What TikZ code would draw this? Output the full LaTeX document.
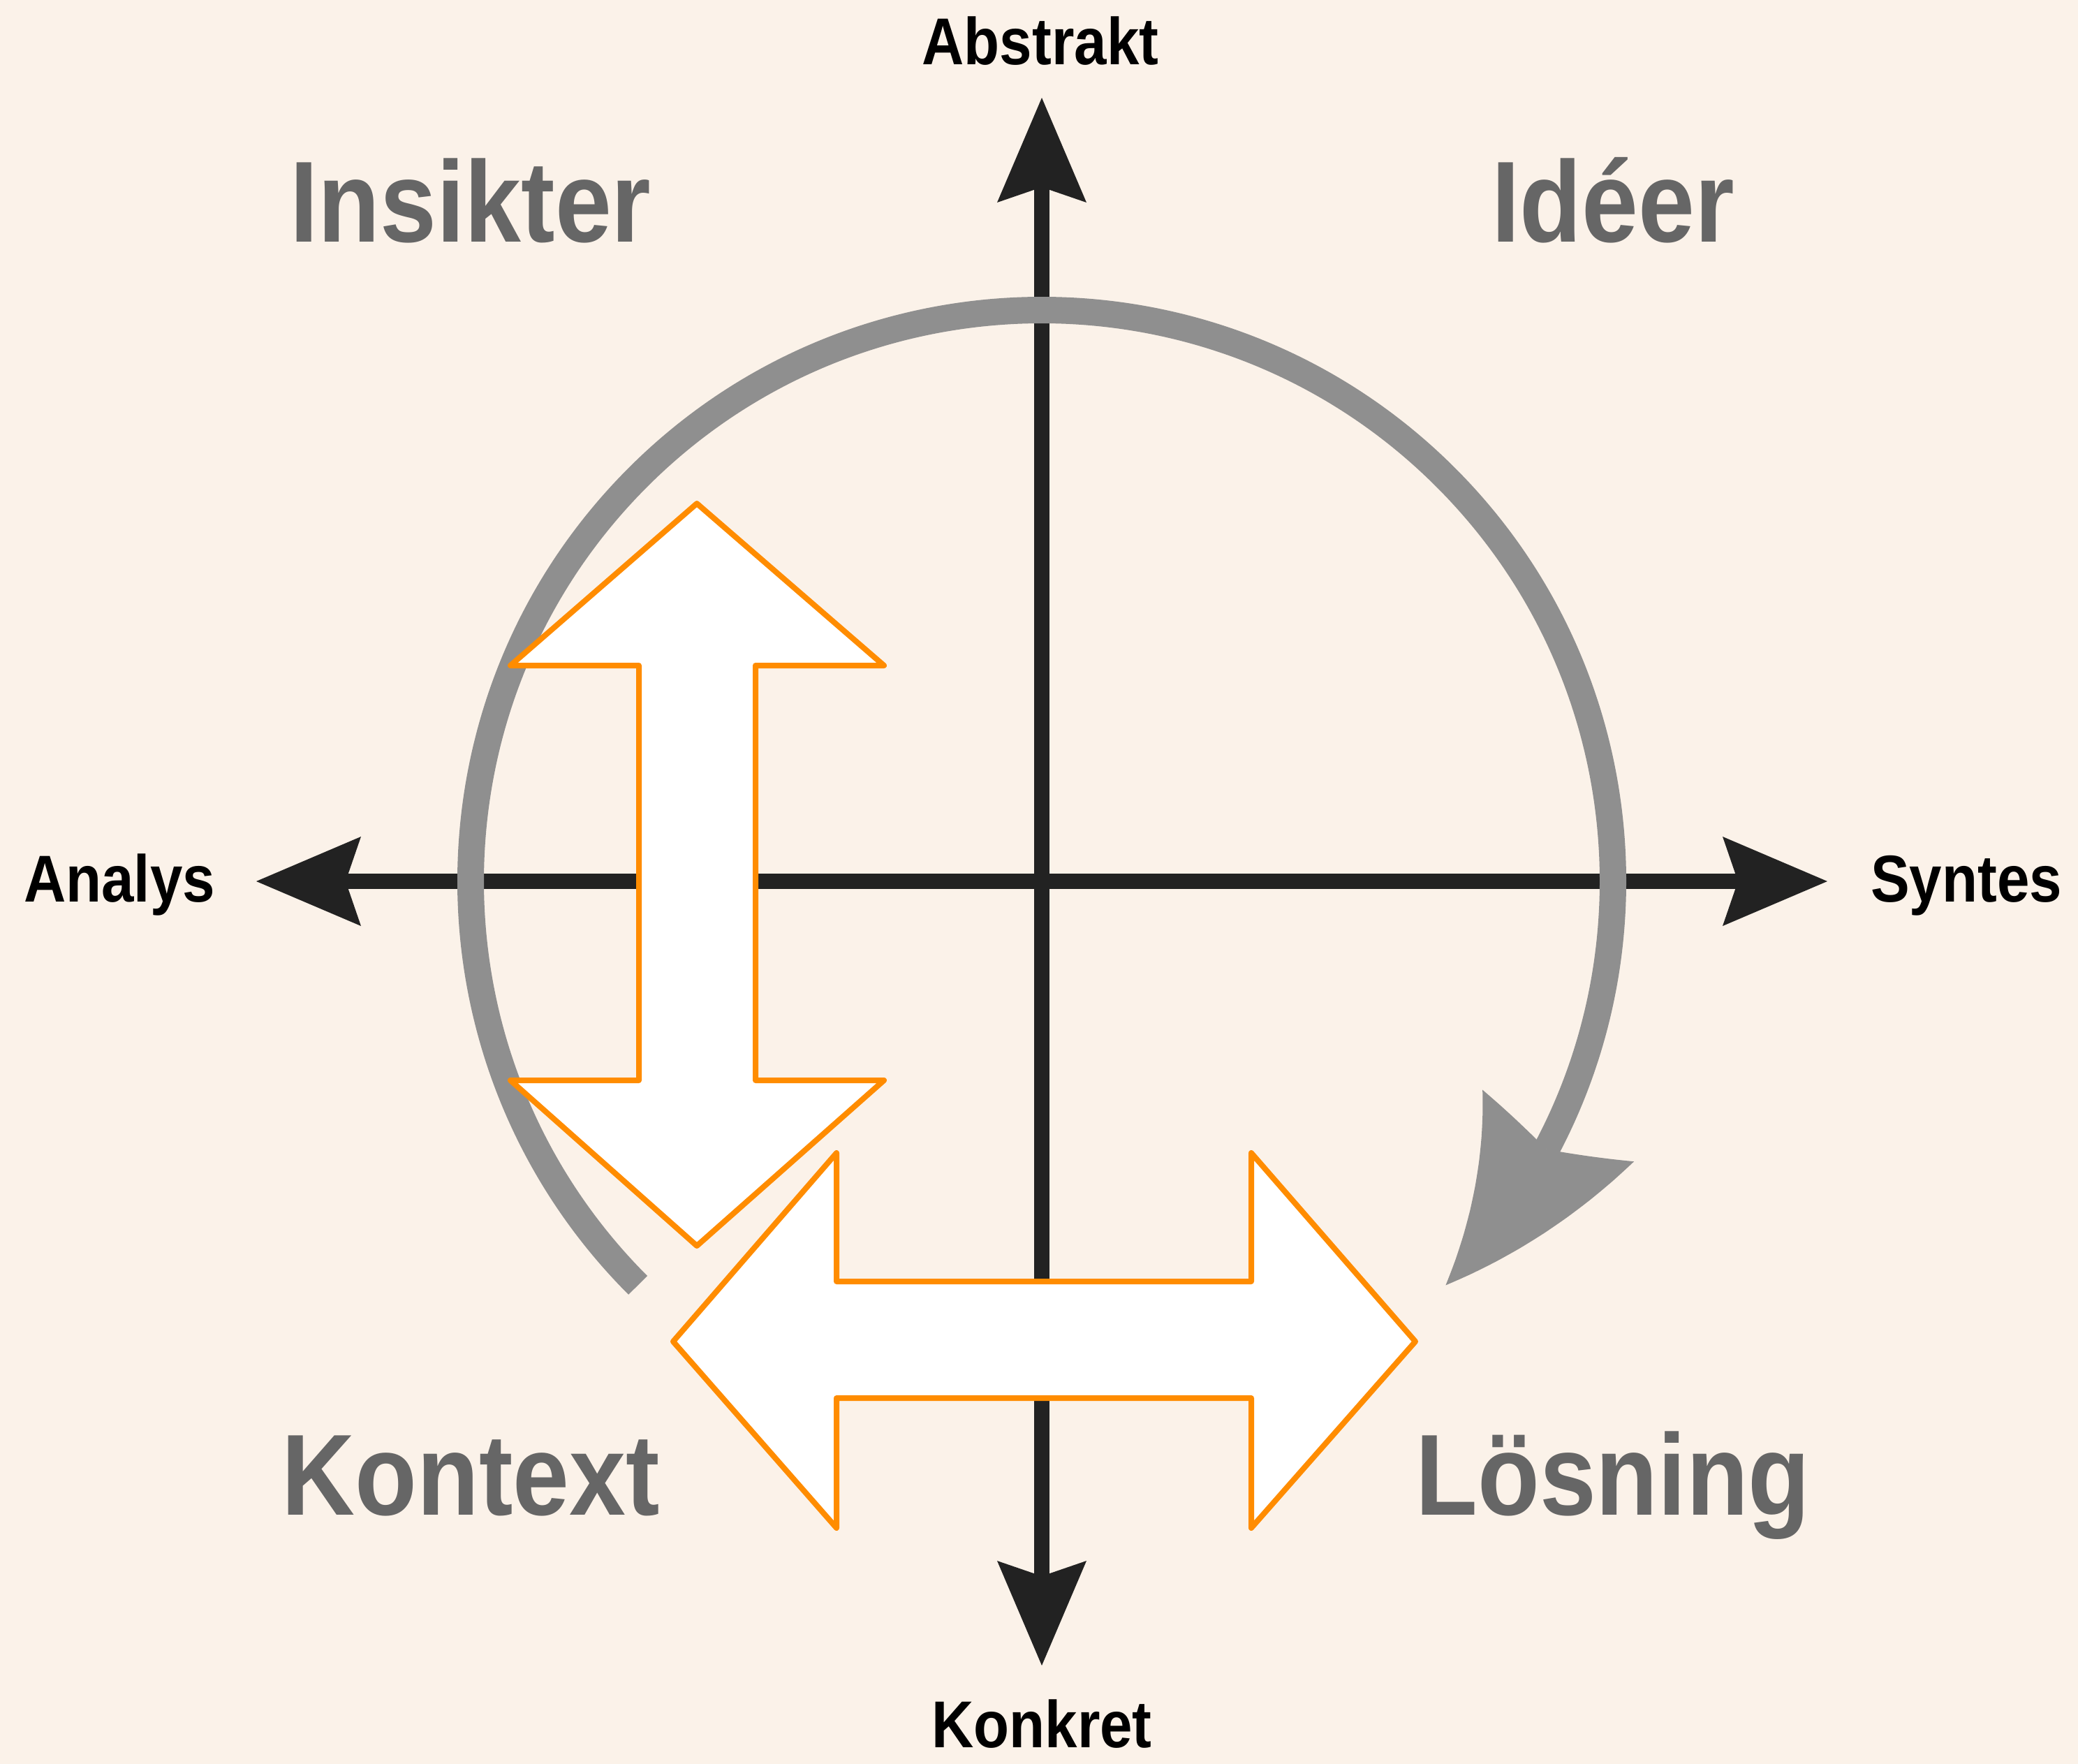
\documentclass[tikz,border=0pt]{standalone}
\usepackage{fontspec}
\setmainfont{Liberation Sans}
\newfontfamily\labelfont{Liberation Sans}[FakeStretch=0.88]
\usetikzlibrary{arrows.meta,bending}
\definecolor{paper}{HTML}{FBF2E9}
\definecolor{axisgray}{HTML}{222222}
\definecolor{loopgray}{HTML}{8F8F8F}
\definecolor{wordgray}{HTML}{666666}
\definecolor{signal}{HTML}{FF8C00}

\begin{document}
\begin{tikzpicture}[
    axistip/.tip={Stealth[length=15mm,width=12.8mm,inset=2.2mm,line width=0pt]},
    axisline/.style={draw=axisgray, line width=2.2mm, axistip-axistip},
    axisword/.style={anchor=base, inner sep=0pt, text=black, font=\labelfont\bfseries\fontsize{27}{30}\selectfont},
    bigword/.style={anchor=base, inner sep=0pt, text=wordgray, font=\labelfont\bfseries\fontsize{47}{52}\selectfont},
    turnloop/.style={draw=loopgray, line width=3.8mm, -{Stealth[length=29mm,width=24mm,inset=4mm,line width=0pt,bend]}},
    dblarrow/.style={draw=signal, fill=white, line width=0.8mm, line join=round}
  ]
  % paper
  \fill[paper] (0,0) rectangle (29.76,-25.26);
  \useasboundingbox (0,0) rectangle (29.76,-25.26);

  % axes
  \coordinate (O) at (14.92,-12.62);
  \coordinate (top) at (14.92,-1.40);
  \coordinate (bottom) at (14.92,-23.85);
  \coordinate (left) at (3.67,-12.62);
  \coordinate (right) at (26.17,-12.62);
  \draw[axisline] (bottom) -- (top);
  \draw[axisline] (left) -- (right);

  \node[axisword] (abstrakt) at (14.90,-0.93) {Abstrakt};
  \node[axisword] (konkret) at (14.92,-25.02) {Konkret};
  \node[axisword] (analys) at (1.71,-12.91) {Analys};
  \node[axisword] (syntes) at (28.16,-12.91) {Syntes};

  % the loop
  \draw[turnloop] (O) ++(225:8.18) arc[start angle=225, end angle=-45, radius=8.18];

  % double arrows
  \draw[dblarrow] (9.98,-7.21) -- (12.66,-9.53) -- (10.82,-9.53) -- (10.82,-15.47)
    -- (12.66,-15.47) -- (9.98,-17.84) -- (7.31,-15.47) -- (9.15,-15.47)
    -- (9.15,-9.53) -- (7.31,-9.53) -- cycle;
  \draw[dblarrow] (9.64,-19.21) -- (11.98,-16.51) -- (11.98,-18.35) -- (17.92,-18.35)
    -- (17.92,-16.51) -- (20.27,-19.21) -- (17.92,-21.88) -- (17.92,-20.02)
    -- (11.98,-20.02) -- (11.98,-21.88) -- cycle;

  \node[bigword] (insikter) at (6.74,-3.47) {Insikter};
  \node[bigword] (ideer) at (23.10,-3.47) {Idéer};
  \node[bigword] (kontext) at (6.74,-21.69) {Kontext};
  \node[bigword] (losning) at (23.10,-21.69) {Lösning};
\end{tikzpicture}
\end{document}
